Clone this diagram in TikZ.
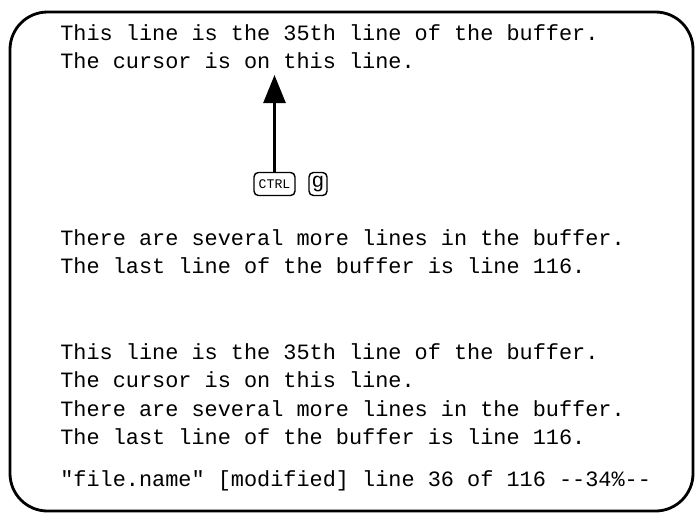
\documentclass[tikz,border=0pt]{standalone}
\usepackage{fontspec}
\setmonofont{Liberation Mono}
\usetikzlibrary{arrows.meta}
\tikzset{scr/.style={anchor=base west,inner sep=0pt,font=\ttfamily\fontsize{12.45pt}{14pt}\selectfont},
key/.style={draw,rounded corners=2.5pt,line width=0.8pt,inner sep=0pt,minimum height=0.46cm}}
\begin{document}
\begin{tikzpicture}[x=0.02cm,y=-0.02cm]
\useasboundingbox(0,0)rectangle(695,525);
\draw[line width=1.6pt,rounded corners=0.75cm](10,12)rectangle(693,511);
\node[scr](l1)at(60,40){This line is the 35th line of the buffer.};
\node[scr](l2)at(60,68){The cursor is on this line.};
\node[scr](l3)at(60,245){There are several more lines in the buffer.};
\node[scr](l4)at(60,273){The last line of the buffer is line 116.};
\node[scr](m1)at(60,359){This line is the 35th line of the buffer.};
\node[scr](m2)at(60,387){The cursor is on this line.};
\node[scr](m3)at(60,416){There are several more lines in the buffer.};
\node[scr](m4)at(60,444){The last line of the buffer is line 116.};
\node[scr](st)at(60,486){"file.name" [modified] line 36 of 116 --34\%--};
\node[key,minimum width=0.82cm,font=\ttfamily\fontsize{7.5pt}{8pt}\selectfont](ctrl)at(274.5,184){CTRL};
\node[key,minimum width=0.36cm,font=\ttfamily\fontsize{12pt}{12pt}\selectfont](gkey)at(318,184){g};
\coordinate(cur)at(274.5,75);
\draw[line width=1.5pt,-{Triangle[length=0.56cm,width=0.44cm]}](ctrl.north)--(cur);
\end{tikzpicture}
\end{document}
